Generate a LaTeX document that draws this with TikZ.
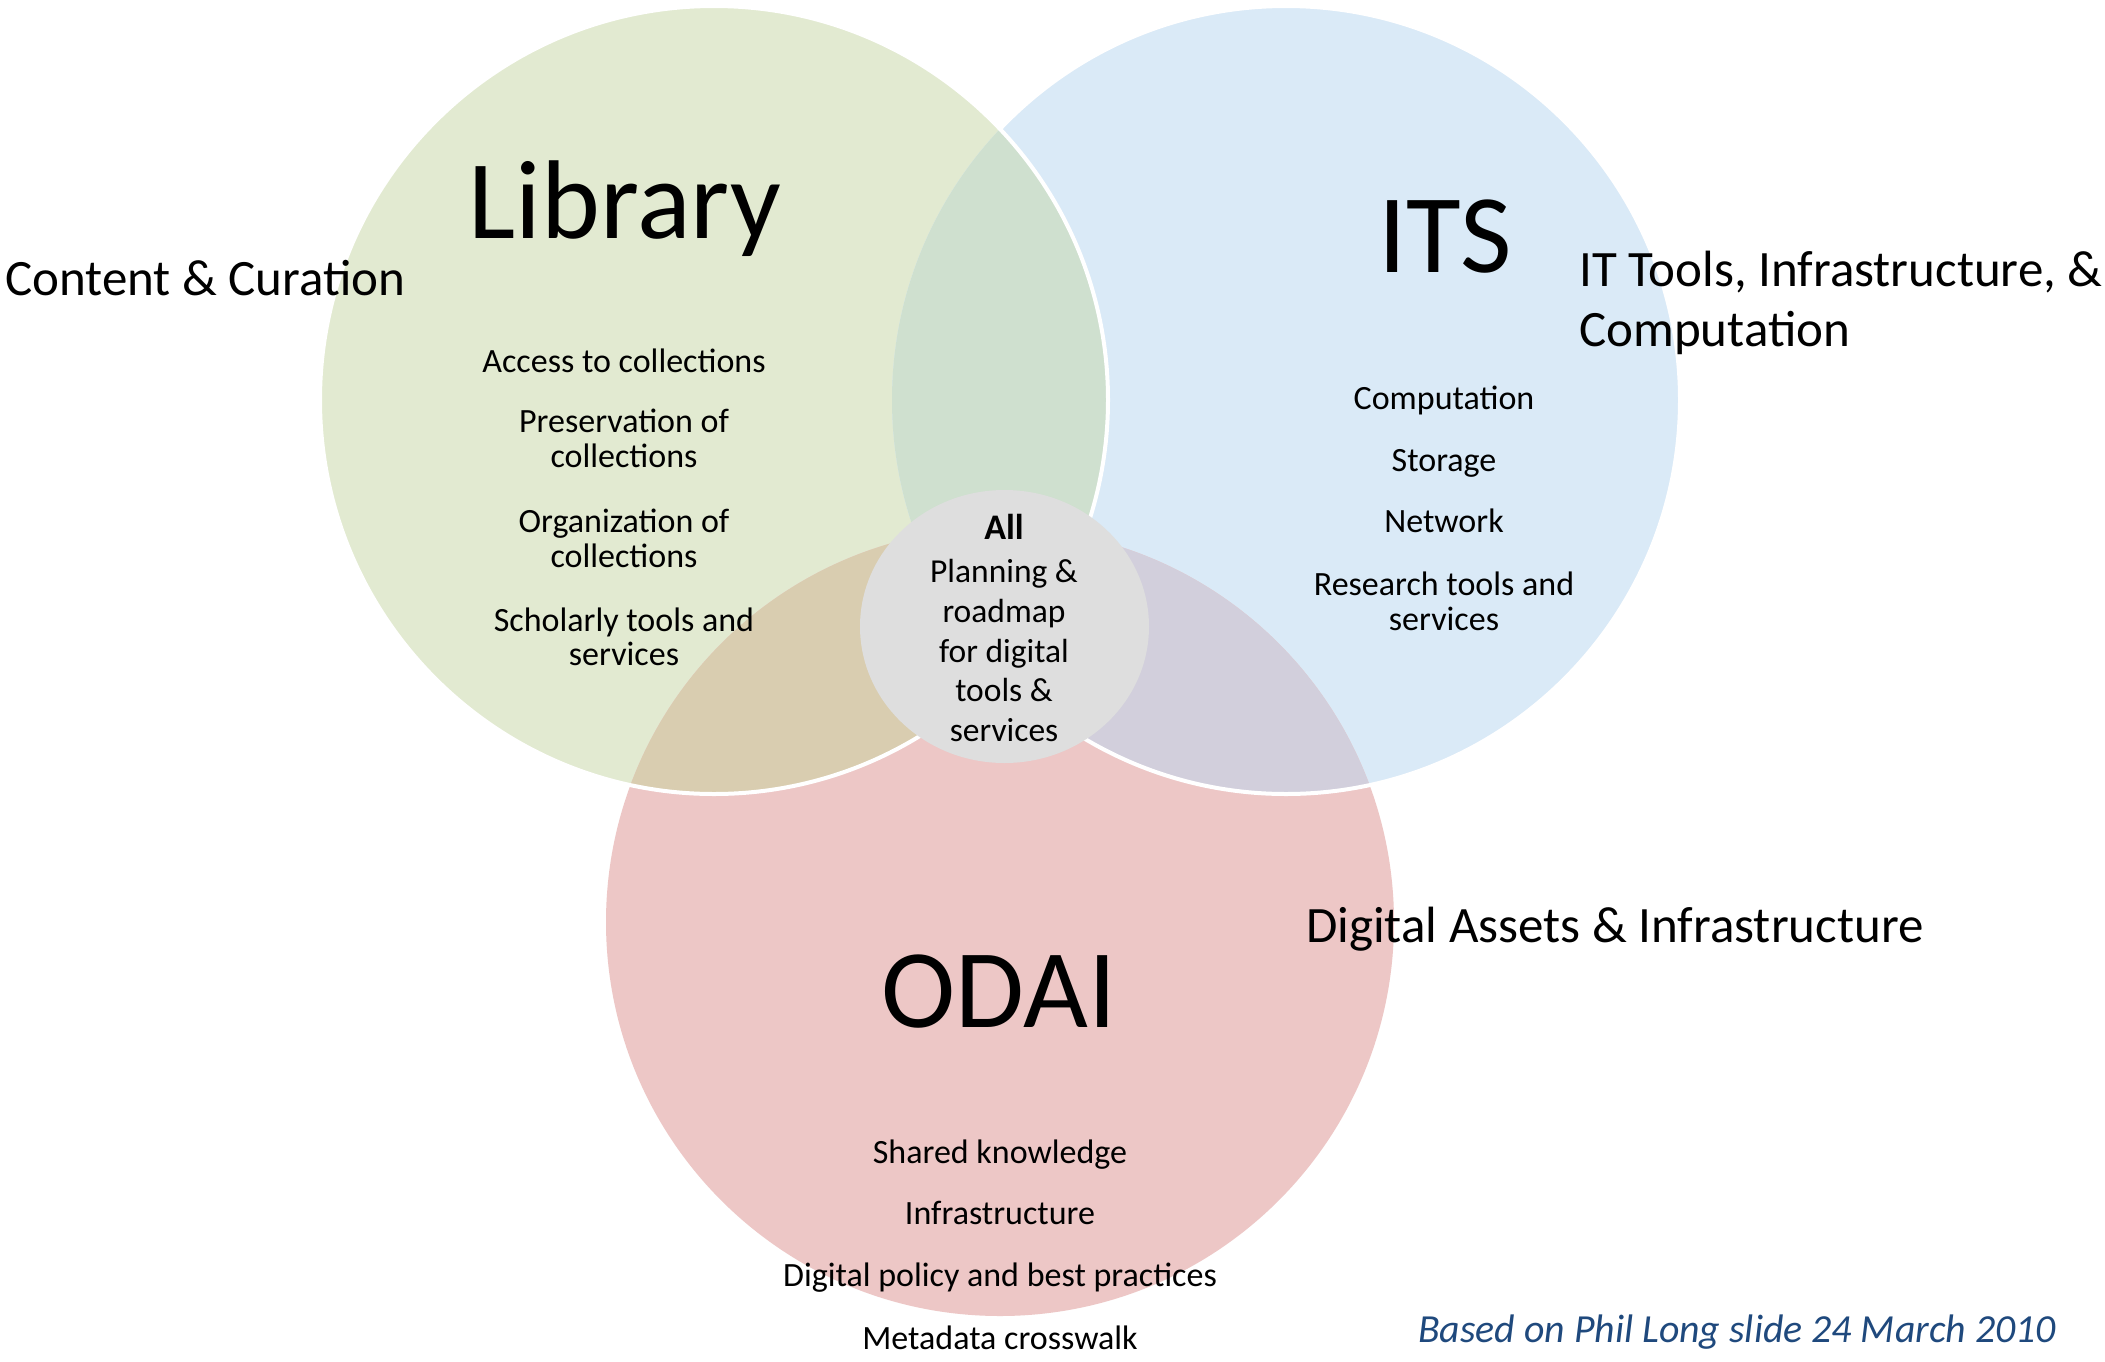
\documentclass[tikz,border=0pt]{standalone}
\usepackage{fontspec}
\setmainfont{Carlito}
\definecolor{libc}{HTML}{E2EAD1}
\definecolor{itsc}{HTML}{DAEAF7}
\definecolor{odaic}{HTML}{EDC7C6}
\definecolor{lic}{HTML}{CFE0CF}
\definecolor{loc}{HTML}{D9CDB0}
\definecolor{ioc}{HTML}{D2CFDC}
\definecolor{allc}{HTML}{DEDEDE}
\definecolor{notec}{HTML}{1F497D}
\begin{document}
\begin{tikzpicture}[x=1pt,y=-1pt,
  lbl/.style={anchor=base,inner sep=0pt,text=black},
  big/.style={lbl,font=\fontsize{112}{134}\selectfont},
  side/.style={lbl,anchor=base west,font=\fontsize{51}{61}\selectfont},
  item/.style={lbl,font=\fontsize{34}{41}\selectfont},
  ctr/.style={lbl,font=\fontsize{33.5}{40}\selectfont},
  whiteedge/.style={draw=white,line width=4pt}]
\useasboundingbox (0,0) rectangle (2105,1361);
\fill[white] (0,0) rectangle (2105,1361);
\coordinate (Lc) at (714,400);
\coordinate (Ic) at (1286,400);
\coordinate (Oc) at (1000,922);
\coordinate (Ac) at (1004.5,626.5);
% base circles
\fill[libc] (Lc) circle[radius=394pt];
\fill[itsc] (Ic) circle[radius=394pt];
\fill[odaic] (Oc) circle[radius=394pt];
% overlaps
\begin{scope}
  \clip (Lc) circle[radius=394pt];
  \fill[lic] (Ic) circle[radius=394pt];
  \fill[loc] (Oc) circle[radius=394pt];
\end{scope}
\begin{scope}
  \clip (Ic) circle[radius=394pt];
  \fill[ioc] (Oc) circle[radius=394pt];
\end{scope}
% white edges
\begin{scope}[even odd rule]
  \clip (0,0) rectangle (2105,1361) (Lc) circle[radius=394pt];
  \draw[whiteedge] (Ic) circle[radius=394pt];
\end{scope}
\draw[whiteedge] (Lc) circle[radius=394pt];
% centre
\fill[allc] (Ac) ellipse[x radius=144.5pt, y radius=136.5pt];
% titles
\node[big] (tlib) at (625,238) {Library};
\node[big] (tits) at (1445,272) {ITS};
\node[big] (todai) at (999,1027) {ODAI};
% side labels
\node[side] (scc) at (5,295) {Content \& Curation};
\node[side] (sit1) at (1579,286) {IT Tools, Infrastructure, \&};
\node[side] (sit2) at (1579,346) {Computation};
\node[side] (sda) at (1306,942) {Digital Assets \& Infrastructure};
% library items
\node[item] (l1) at (624,372) {Access to collections};
\node[item] (l2a) at (624,432) {Preservation of};
\node[item] (l2b) at (624,467) {collections};
\node[item] (l3a) at (624,532) {Organization of};
\node[item] (l3b) at (624,567) {collections};
\node[item] (l4a) at (624,631) {Scholarly tools and};
\node[item] (l4b) at (624,665) {services};
% ITS items
\node[item] (i1) at (1444,409) {Computation};
\node[item] (i2) at (1444,471) {Storage};
\node[item] (i3) at (1444,532) {Network};
\node[item] (i4a) at (1444,595) {Research tools and};
\node[item] (i4b) at (1444,630) {services};
% ODAI items
\node[item] (o1) at (1000,1163) {Shared knowledge};
\node[item] (o2) at (1000,1224) {Infrastructure};
\node[item] (o3) at (1000,1286) {Digital policy and best practices};
\node[item] (o4) at (1000,1349) {Metadata crosswalk};
% centre text
\node[lbl,font=\fontsize{36}{43}\selectfont\bfseries] (a0) at (1004,539) {All};
\node[ctr] (a1) at (1004,582) {Planning \&};
\node[ctr] (a2) at (1004,622) {roadmap};
\node[ctr] (a3) at (1004,662) {for digital};
\node[ctr] (a4) at (1004,701) {tools \&};
\node[ctr] (a5) at (1004,741) {services};
% note
\node[lbl,anchor=base west,text=notec,font=\fontsize{39.8}{48}\selectfont\itshape] (note) at (1418,1342) {Based on Phil Long slide 24 March 2010};
\end{tikzpicture}
\end{document}
